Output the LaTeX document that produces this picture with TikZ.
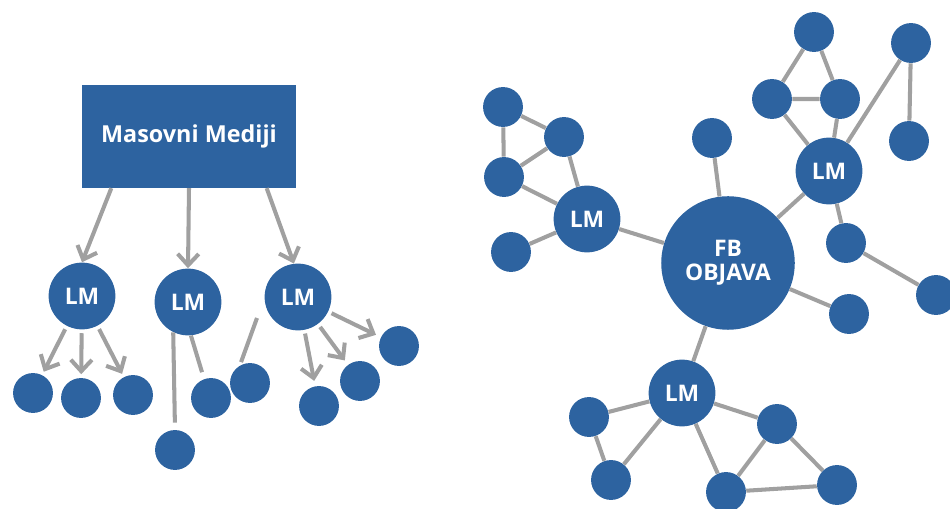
\documentclass[tikz,border=0pt]{standalone}
\usepackage{fontspec}
\setmainfont{Open Sans}
\usetikzlibrary{arrows.meta}
\definecolor{node-blue}{RGB}{45,99,160}
\definecolor{edge-grey}{RGB}{160,160,160}

\begin{document}
\begin{tikzpicture}[x=0.02cm,y=-0.02cm,
    lm/.style={circle,fill=node-blue,text=white,minimum size=38pt,inner sep=0pt,align=center,
      font=\bfseries\fontsize{13}{13.5}\selectfont},
    dot/.style={circle,fill=node-blue,minimum size=22.7pt,inner sep=0pt},
    edge/.style={draw=edge-grey,line width=2.3pt},
    arr/.style={edge,-{Straight Barb[length=6.5pt,width=12pt]}}]
\useasboundingbox (0,0) rectangle (950,509);

% mass media
\node[fill=node-blue,text=white,minimum width=121.3pt,minimum height=58.4pt,inner sep=0pt,
  font=\bfseries\fontsize{13.3}{14}\selectfont] (mm) at (189,136.5) {Masovni Mediji};
\node[lm] (lm1) at (82,296) {LM};
\node[lm] (lm2) at (188,302) {LM};
\node[lm] (lm3) at (298,297) {LM};
\node[dot] (a1) at (33,393) {};
\node[dot] (a2) at (81,398) {};
\node[dot] (a3) at (133,395) {};
\node[dot] (b1) at (175,450) {};
\node[dot] (b2) at (211,398) {};
\node[dot] (b3) at (250,383) {};
\node[dot] (c1) at (319,406) {};
\node[dot] (c2) at (360,381) {};
\node[dot] (c3) at (399,346) {};
\coordinate (loose) at (257,318);

\draw[arr] ([xshift=-44.2pt]mm.south) -- (lm1.north);
\draw[arr] (mm.south) -- (lm2.north);
\draw[arr] ([xshift=44.2pt]mm.south) -- (lm3.97);
\draw[arr,shorten <=2pt,shorten >=2pt] (lm1) -- (a1);
\draw[arr,shorten <=2pt,shorten >=2pt] (lm1) -- (a2);
\draw[arr,shorten <=2pt,shorten >=2pt] (lm1) -- (a3);
\draw[edge,shorten >=4pt] (lm2.244) -- (b1.north);
\draw[edge,shorten >=4pt] (lm2.275) -- (b2.110);
\draw[edge,shorten >=2pt] (loose) -- (b3.120);
\draw[arr,shorten <=2pt,shorten >=3pt] (lm3) -- (c1);
\draw[arr,shorten <=2pt,shorten >=3pt] (lm3) -- (c2);
\draw[arr,shorten <=2pt,shorten >=3pt] (lm3) -- (c3);

% social network
\node[lm,minimum size=76pt] (fb) at (728,263) {FB\\OBJAVA};
\node[lm] (lml) at (587,219) {LM};
\node[lm] (lmr) at (829,171) {LM};
\node[lm] (lmb) at (682,393) {LM};
\node[dot] (l1) at (503,107) {};
\node[dot] (l2) at (564,137) {};
\node[dot] (l3) at (504,177) {};
\node[dot] (l4) at (511,252) {};
\node[dot] (t1) at (712,138) {};
\node[dot] (r1) at (814,32) {};
\node[dot] (r2) at (772,99) {};
\node[dot] (r3) at (840,99) {};
\node[dot] (r4) at (911,43) {};
\node[dot] (r5) at (909,141) {};
\node[dot] (r6) at (846,243) {};
\node[dot] (r7) at (936,295) {};
\node[dot] (f1) at (849,314) {};
\node[dot] (d1) at (589,417) {};
\node[dot] (d2) at (611,480) {};
\node[dot] (d3) at (777,424) {};
\node[dot] (d4) at (726,492) {};
\node[dot] (d5) at (837,485) {};

\draw[edge] (l1) -- (l2) (l1) -- (l3) (l2) -- (l3) (l2) -- (lml) (l3) -- (lml) (l4) -- (lml);
\draw[edge] (lml) -- (fb) (t1) -- (fb) (lmr) -- (fb) (f1) -- (fb) (lmb) -- (fb);
\draw[edge] (r1) -- (r2) (r1) -- (r3) (r2) -- (r3) (r2) -- (lmr) (r3) -- (lmr) (r4) -- (lmr)
  (r4) -- (r5) (lmr) -- (r6) (r6) -- (r7);
\draw[edge] (lmb) -- (d1) (lmb) -- (d2) (d1) -- (d2) (lmb) -- (d3) (lmb) -- (d4)
  (d3) -- (d4) (d3) -- (d5) (d4) -- (d5);
\end{tikzpicture}
\end{document}
